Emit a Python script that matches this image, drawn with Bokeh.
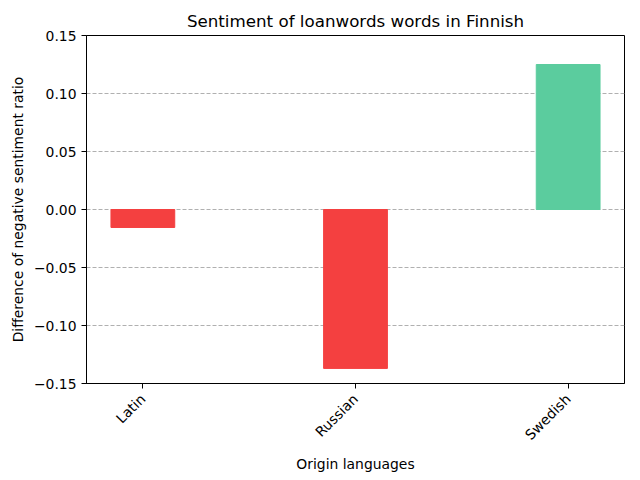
import math

from bokeh.plotting import figure
from bokeh.models import FixedTicker, Range1d, ColumnDataSource
from bokeh.embed import file_html
from bokeh.resources import INLINE

# data
languages = ["Latin", "Russian", "Swedish"]
differences = [-0.0155, -0.137, 0.125]
bar_colors = ["#f44040", "#f44040", "#5bcc9e"]

yticks = [-0.15, -0.10, -0.05, 0.0, 0.05, 0.10, 0.15]
ytick_labels = ["\u22120.15", "\u22120.10", "\u22120.05", "0.00", "0.05", "0.10", "0.15"]

FONT = "DejaVu Sans"

positions = list(range(len(languages)))
source = ColumnDataSource(data=dict(x=positions, top=differences, color=bar_colors))

p = figure(
    frame_width=538, frame_height=348,
    output_backend="svg", toolbar_location=None,
    x_range=Range1d(-0.265, 2.265), y_range=Range1d(-0.15, 0.15),
    title="Sentiment of loanwords words in Finnish",
    x_axis_label="Origin languages",
    y_axis_label="Difference of negative sentiment ratio",
    min_border_left=86, min_border_right=10,
    min_border_top=35, min_border_bottom=88,
)

p.vbar(x="x", top="top", bottom=0, width=0.3, color="color", source=source)

p.title.align = "center"
p.title.text_font = FONT
p.title.text_font_size = "16.7px"
p.title.text_font_style = "normal"
p.title.text_color = "black"

p.outline_line_color = "black"
p.outline_line_width = 1
p.outline_line_alpha = 1

for ax in (p.xaxis, p.yaxis):
    ax.axis_label_text_font = FONT
    ax.axis_label_text_font_size = "13.9px"
    ax.axis_label_text_font_style = "normal"
    ax.axis_label_text_color = "black"
    ax.major_label_text_font = FONT
    ax.major_label_text_font_size = "13.9px"
    ax.major_label_text_color = "black"
    ax.axis_line_color = "black"
    ax.major_tick_line_color = "black"
    ax.major_tick_out = 5
    ax.major_tick_in = 0
    ax.minor_tick_line_color = None

p.xaxis.ticker = FixedTicker(ticks=positions)
p.xaxis.major_label_overrides = {i: name for i, name in zip(positions, languages)}
p.xaxis.major_label_orientation = math.pi / 4
p.xaxis.major_label_standoff = 8

p.yaxis.ticker = FixedTicker(ticks=yticks)
p.yaxis.major_label_overrides = {t: lab for t, lab in zip(yticks, ytick_labels)}

p.xgrid.grid_line_color = None
p.ygrid.grid_line_color = "#b0b0b0"
p.ygrid.grid_line_dash = "4 2"
p.ygrid.grid_line_width = 1

open("out.html", "w").write(file_html(p, INLINE))
